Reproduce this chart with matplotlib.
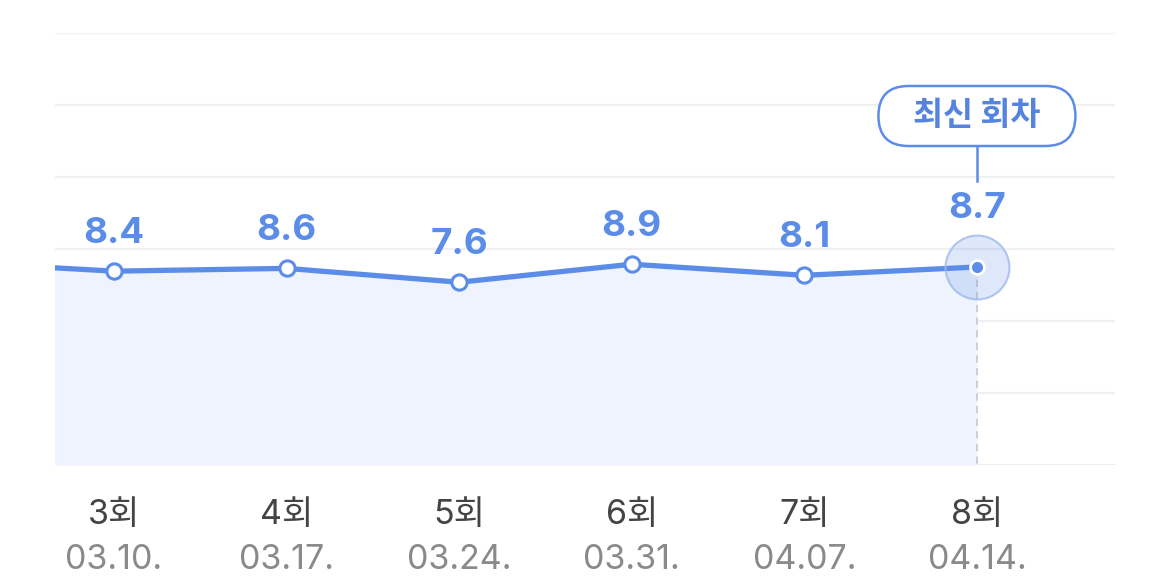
import matplotlib.pyplot as plt
import matplotlib.transforms as mtransforms
from matplotlib.patches import FancyBboxPatch
import numpy as np

plt.rcParams['font.family'] = ['Inter', 'Noto Sans CJK KR', 'DejaVu Sans']

# data
rounds = ['3회', '4회', '5회', '6회', '7회', '8회']
dates = ['03.10.', '03.17.', '03.24.', '03.31.', '04.07.', '04.14.']
values = [8.4, 8.6, 7.6, 8.9, 8.1, 8.7]
prev_value = 9.1  # 2회, off the left edge

blue = '#5b8de8'
fill_blue = '#eef3fd'

fig = plt.figure(figsize=(11.7, 5.87), dpi=100)
ax = fig.add_axes([55/1170, 1-465/587, 1060/1170, 432/587])

x = np.arange(len(values))
xs = np.concatenate([[-1], x])
ys = [prev_value] + values

ax.set_xlim(-0.342, 5.80)
ax.set_ylim(-5.6, 25.6)

# grid
for g in np.linspace(-5.6, 25.6, 7)[1:]:
    ax.axhline(g, color='#f0f0f2', lw=1.6, zorder=0)
ax.axhline(-5.6, color='#eaeaec', lw=2, zorder=0)

ax.fill_between(xs, ys, -5.6, color=fill_blue, zorder=1, lw=0)
ax.plot(xs, ys, color=blue, lw=3.8, zorder=3, solid_capstyle='round')

# regular points
ax.plot(x[:-1], values[:-1], 'o', ms=11, mfc='white', mec=blue, mew=2.2, zorder=4)

# latest point highlight
ax.plot(x[-1], values[-1], 'o', ms=46, mfc='#5b8de8', alpha=0.2, mec='none', zorder=4)
ax.plot(x[-1], values[-1], 'o', ms=46, mfc='none', mec='#9db9ee', mew=1.5, alpha=0.8, zorder=4)
ax.plot(x[-1], values[-1], 'o', ms=10, mfc=blue, mec='white', mew=2, zorder=5)
ax.plot([x[-1], x[-1]], [values[-1], -5.6], color='#c8ccd6', lw=1.3,
        ls=(0, (4, 3)), zorder=2)

# value labels
for i, (xi, v) in enumerate(zip(x, values)):
    off = 58 if i == len(values) - 1 else 38
    ax.annotate(f'{v}', (xi, v), xytext=(0, off), textcoords='offset pixels',
                ha='center', va='center', fontsize=26.5, fontweight='bold', color=blue,
                zorder=6)

# latest badge (pixel units around the last point)
badge_tr = mtransforms.IdentityTransform() + mtransforms.ScaledTranslation(
    x[-1], values[-1], ax.transData)
ax.add_patch(FancyBboxPatch((-98.5, 121), 197, 60, transform=badge_tr,
                            boxstyle='round,pad=0,rounding_size=30',
                            fc='white', ec=blue, lw=1.8, zorder=7, clip_on=False))
ax.plot([0, 0], [86, 121], color=blue, lw=1.8, transform=badge_tr, zorder=6,
        clip_on=False)
ax.annotate('최신 회차', (x[-1], values[-1]), xytext=(0, 151), textcoords='offset pixels',
            ha='center', va='center', fontsize=23.5, fontweight='bold', color='#5584de',
            family=['Noto Sans CJK KR'], zorder=8)

# x labels
for xi, r, d in zip(x, rounds, dates):
    ax.text(xi, -0.116, r, transform=ax.get_xaxis_transform(), ha='center', va='center',
            fontsize=24.5, color='#444444')
    ax.text(xi, -0.22, d, transform=ax.get_xaxis_transform(), ha='center', va='center',
            fontsize=24.5, color='#8a8a8a')

ax.set_xticks([])
ax.set_yticks([])
for s in ax.spines.values():
    s.set_visible(False)

plt.savefig('out.png', dpi=100)
